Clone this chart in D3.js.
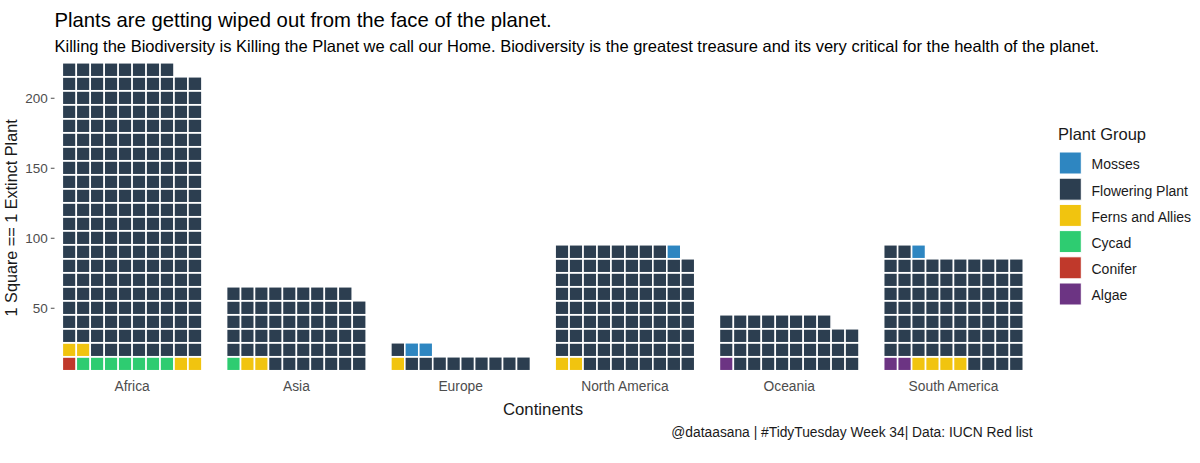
<!DOCTYPE html>
<html>
<head>
<meta charset="utf-8">
<script src="https://cdn.jsdelivr.net/npm/d3@7"></script>
<style>
  body { margin: 0; background: #fff; }
  text { font-family: "Liberation Sans", Arial, sans-serif; }
</style>
</head>
<body>
<svg id="chart" width="1200" height="463"></svg>
<script>
// Data: extinct plants per continent and plant group (1 square == 1 plant)
const continents = ["Africa", "Asia", "Europe", "North America", "Oceania", "South America"];
const groups = ["Algae", "Conifer", "Cycad", "Ferns and Allies", "Flowering Plant", "Mosses"];
const algae      = [0, 0, 0, 0, 1, 2];
const conifer    = [1, 0, 0, 0, 0, 0];
const cycad      = [7, 1, 0, 0, 0, 0];
const ferns      = [4, 2, 1, 2, 0, 4];
const flowering  = [206, 56, 10, 86, 37, 76];
const mosses     = [0, 0, 2, 1, 0, 1];
const yTicks = [50, 100, 150, 200];

const color = {
    "Algae": "#6C3483",
    "Conifer": "#C0392B",
    "Cycad": "#2ECC71",
    "Ferns and Allies": "#F1C40F",
    "Flowering Plant": "#2C3E50",
    "Mosses": "#2E86C1"
};

const counts = [algae, conifer, cycad, ferns, flowering, mosses];
const nCols = 10;

// build tiles, filled row by row, groups in alphabetical order
const tiles = [];
continents.forEach((c, ci) => {
    let idx = 0;
    groups.forEach((g, gi) => {
        for (let k = 0; k < counts[gi][ci]; k++) {
            tiles.push({continent: c, group: g, col: idx % nCols, row: Math.floor(idx / nCols) + 1});
            idx++;
        }
    });
});

const svg = d3.select('#chart');

//Panel
const margin = {top: 58, left: 54.5, right: 1031.5, bottom: 377.75};

const xScale = d3.scaleBand()
    .domain(continents)
    .range([62.3, 1023.3])
    .paddingInner(0.15)
    .paddingOuter(0);

const colScale = d3.scaleBand()
    .domain(d3.range(nCols))
    .range([0, xScale.bandwidth()]);

// each row is worth 10 units on the axis
const yScale = d3.scaleLinear()
    .domain([0, 228.4])
    .range([margin.bottom, margin.top]);

//Tiles
svg.append('g').selectAll('rect').data(tiles)
    .enter().append('rect')
    .attr('x', d => xScale(d.continent) + colScale(d.col))
    .attr('y', d => yScale(d.row * 10 + 5))
    .attr('width', colScale.bandwidth())
    .attr('height', yScale(0) - yScale(10))
    .style('fill', d => color[d.group])
    .style('stroke', 'white')
    .style('stroke-width', 1.6);

//Y axis
const yAxis = svg.append('g')
    .attr('transform', `translate(${margin.left},0)`)
    .call(d3.axisLeft(yScale).tickValues(yTicks).tickSize(3.7).tickPadding(3));
yAxis.select('.domain').remove();
yAxis.selectAll('.tick line').style('stroke', '#4d4d4d').style('stroke-width', 1);
yAxis.selectAll('.tick text')
    .style('font-size', '13.5px')
    .style('fill', '#4d4d4d');

//X axis labels
const xAxis = svg.append('g')
    .attr('transform', `translate(0,${margin.bottom})`)
    .call(d3.axisBottom(xScale).tickSize(0).tickPadding(3));
xAxis.select('.domain').remove();
xAxis.selectAll('.tick text')
    .style('font-size', '13.8px')
    .style('fill', '#4d4d4d');

//Axis titles
svg.append('text')
    .attr('x', (margin.left + margin.right) / 2)
    .attr('y', 415)
    .attr('text-anchor', 'middle')
    .style('font-size', '16.8px')
    .style('fill', '#1a1a1a')
    .text('Continents');

svg.append('text')
    .attr('transform', `translate(17,${(margin.top + margin.bottom) / 2}) rotate(-90)`)
    .attr('text-anchor', 'middle')
    .style('font-size', '16.2px')
    .style('fill', '#1a1a1a')
    .text('1 Square == 1 Extinct Plant');

//Title, subtitle, caption
svg.append('text')
    .attr('x', margin.left)
    .attr('y', 27)
    .style('font-size', '20.3px')
    .style('fill', '#000')
    .text('Plants are getting wiped out from the face of the planet.');

svg.append('text')
    .attr('x', margin.left)
    .attr('y', 52)
    .style('font-size', '16.5px')
    .style('fill', '#000')
    .text('Killing the Biodiversity is Killing the Planet we call our Home. Biodiversity is the greatest treasure and its very critical for the health of the planet.');

svg.append('text')
    .attr('x', margin.right + 1)
    .attr('y', 437)
    .attr('text-anchor', 'end')
    .style('font-size', '13.8px')
    .style('fill', '#1a1a1a')
    .text('@dataasana | #TidyTuesday Week 34| Data: IUCN Red list');

//Legend
const legend = svg.append('g')
    .attr('transform', 'translate(1058,140)');

legend.append('text')
    .attr('x', 0)
    .attr('y', 0)
    .style('font-size', '16.5px')
    .style('fill', '#1a1a1a')
    .text('Plant Group');

const legendItems = groups.slice().reverse();
const key = legend.selectAll('.key').data(legendItems)
    .enter().append('g')
    .attr('transform', (d, i) => `translate(0,${12 + i * 26.2})`);

key.append('rect')
    .attr('x', 1.3)
    .attr('y', 0)
    .attr('width', 22)
    .attr('height', 22)
    .style('fill', d => color[d])
    .style('stroke', 'white')
    .style('stroke-width', 1);

key.append('text')
    .attr('x', 33.5)
    .attr('y', 12.5)
    .attr('dy', '0.35em')
    .style('font-size', '14px')
    .style('fill', '#1a1a1a')
    .text(d => d);
</script>
</body>
</html>
